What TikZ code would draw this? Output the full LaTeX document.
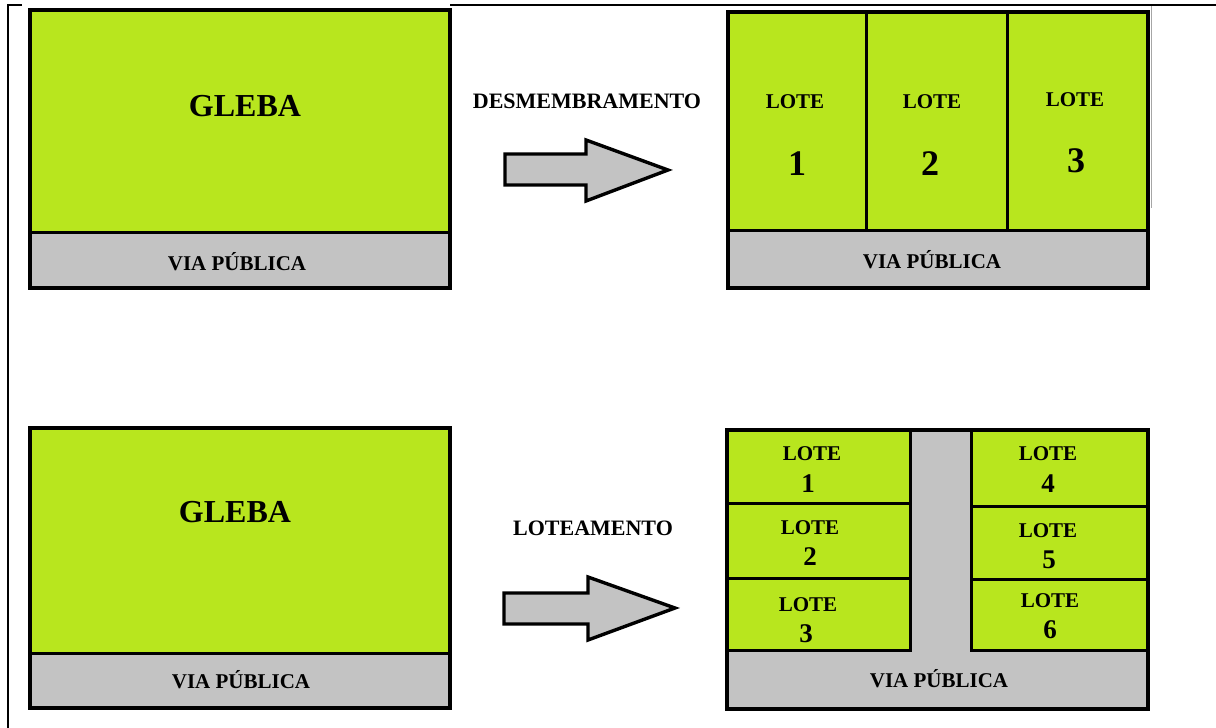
\documentclass[tikz,border=0pt]{standalone}
\usepackage{fontspec}
\setmainfont{Liberation Serif}
\definecolor{lotgreen}{HTML}{B8E61E}
\definecolor{roadgray}{HTML}{C3C3C3}
\begin{document}
\begin{tikzpicture}[x=1pt,y=-1pt,
  outer/.style={draw=black,line width=3.6pt},
  divider/.style={draw=black,line width=3pt},
  lbl/.style={anchor=base,inner sep=0pt,font=\bfseries\fontsize{21}{21}\selectfont},
  big/.style={anchor=base,inner sep=0pt,font=\bfseries\fontsize{32}{32}\selectfont},
  numbig/.style={anchor=base,inner sep=0pt,font=\bfseries\fontsize{36}{36}\selectfont},
  numsmall/.style={anchor=base,inner sep=0pt,font=\bfseries\fontsize{27}{27}\selectfont},
  bigarrow/.style={draw=black,fill=roadgray,line width=3.4pt,line join=miter}]
\useasboundingbox (0,0) rectangle (1216,728);
\fill[white] (0,0) rectangle (1216,728);
% frame lines
\draw[line width=2pt] (8,728) -- (8,5) -- (22,5);
\draw[line width=2pt] (450,5) -- (1216,5);
\draw[gray!70,line width=1pt] (1151,6) -- (1151,208);

% ===== top left: GLEBA
\fill[lotgreen] (30,10) rectangle (450,232);
\fill[roadgray] (30,232) rectangle (450,288);
\draw[divider] (30,232) -- (450,232);
\draw[outer] (30,10) rectangle (450,288);
\node[big] (g1) at (245,116) {GLEBA};
\node[lbl] (v1) at (237,270) {VIA PÚBLICA};

% ===== arrow 1
\node[lbl,font=\bfseries\fontsize{22}{22}\selectfont] (t1) at (587,108) {DESMEMBRAMENTO};
\draw[bigarrow] (505,154) -- (586,154) -- (586,140) -- (668,170) -- (586,201) -- (586,185) -- (505,185) -- cycle;

% ===== top right: DESMEMBRAMENTO
\fill[lotgreen] (728,12) rectangle (1148,230);
\fill[roadgray] (728,230) rectangle (1148,288);
\draw[divider] (728,230) -- (1148,230);
\draw[divider] (866,12) -- (866,230);
\draw[divider] (1007,12) -- (1007,230);
\draw[outer] (728,12) rectangle (1148,288);
\node[lbl] (d1) at (795,108) {LOTE};
\node[lbl] (d2) at (932,108) {LOTE};
\node[lbl] (d3) at (1075,106) {LOTE};
\node[numbig] (n1) at (797,175) {1};
\node[numbig] (n2) at (930,175) {2};
\node[numbig] (n3) at (1076,172) {3};
\node[lbl] (v2) at (932,268) {VIA PÚBLICA};

% ===== bottom left: GLEBA
\fill[lotgreen] (30,428) rectangle (450,653);
\fill[roadgray] (30,653) rectangle (450,708);
\draw[divider] (30,653) -- (450,653);
\draw[outer] (30,428) rectangle (450,708);
\node[big] (g2) at (235,522) {GLEBA};
\node[lbl] (v3) at (241,688) {VIA PÚBLICA};

% ===== arrow 2
\node[lbl,font=\bfseries\fontsize{22}{22}\selectfont] (t2) at (593,535) {LOTEAMENTO};
\draw[bigarrow] (504,593) -- (588,593) -- (588,577) -- (675,608) -- (588,640) -- (588,624) -- (504,624) -- cycle;

% ===== bottom right: LOTEAMENTO
\fill[roadgray] (727,430) rectangle (1148,709);
\fill[lotgreen] (727,430) rectangle (910,650);
\fill[lotgreen] (971,430) rectangle (1148,650);
\draw[divider] (727,503) -- (910,503);
\draw[divider] (727,578) -- (910,578);
\draw[divider] (971,506) -- (1148,506);
\draw[divider] (971,579) -- (1148,579);
\draw[divider] (910,430) -- (910,650) -- (727,650);
\draw[divider] (971,430) -- (971,650) -- (1148,650);
\draw[outer] (727,430) rectangle (1148,709);
\node[lbl] (l1) at (812,460) {LOTE};
\node[numsmall] (m1) at (808,492) {1};
\node[lbl] (l2) at (810,534) {LOTE};
\node[numsmall] (m2) at (810,565) {2};
\node[lbl] (l3) at (808,611) {LOTE};
\node[numsmall] (m3) at (806,642) {3};
\node[lbl] (l4) at (1048,460) {LOTE};
\node[numsmall] (m4) at (1048,492) {4};
\node[lbl] (l5) at (1048,537) {LOTE};
\node[numsmall] (m5) at (1049,568) {5};
\node[lbl] (l6) at (1050,607) {LOTE};
\node[numsmall] (m6) at (1050,638) {6};
\node[lbl] (v4) at (939,687) {VIA PÚBLICA};
\end{tikzpicture}
\end{document}
